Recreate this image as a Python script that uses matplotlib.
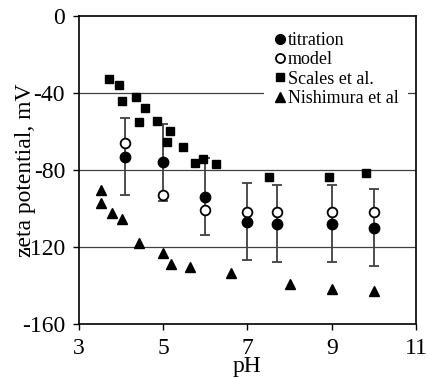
import matplotlib
matplotlib.use("Agg")
import matplotlib.pyplot as plt
from matplotlib.lines import Line2D

plt.rcParams['font.family'] = ['Liberation Serif', 'DejaVu Serif']
plt.rcParams['axes.unicode_minus'] = False

# titration (filled) with error bars, model (open)
ph_tit = [4.1, 5.0, 6.0, 7.0, 7.7, 9.0, 10.0]
zeta_tit = [-73, -76, -94, -107, -108, -108, -110]
err_tit = [20, 20, 20, 20, 20, 20, 20]
zeta_model = [-66, -93, -101, -102, -102, -102, -102]

# Scales et al.
ph_scales = [3.71, 3.96, 4.03, 4.36, 4.57, 4.42, 4.85, 5.17, 5.09, 5.47, 5.76, 5.95, 6.25, 7.52, 8.94, 9.82]
zeta_scales = [-32.7, -35.8, -44.2, -42.1, -47.6, -54.9, -54.4, -59.7, -65.6, -68.1, -76.2, -74.4, -77.0, -83.5, -83.5, -81.7]

# Nishimura et al
ph_nish = [3.52, 3.52, 3.79, 4.02, 4.43, 5.0, 5.19, 5.63, 6.61, 8.01, 9.01, 10.0]
zeta_nish = [-90.4, -97.3, -102.2, -105.3, -117.8, -123.3, -128.8, -130.5, -133.7, -139.3, -141.8, -142.9]

xticks = [3, 5, 7, 9, 11]
yticks = [0, -40, -80, -120, -160]
labels = ['titration', 'model', 'Scales et al.', 'Nishimura et al']

fig = plt.figure(figsize=(4.26, 3.79), dpi=100)
ax = fig.add_axes([0.1854, 0.1451, 0.7911, 0.8127])

for yv in [-40, -80, -120]:
    ax.axhline(yv, color='0.25', lw=0.9, zorder=1)

ax.errorbar(ph_tit, zeta_tit, yerr=err_tit, fmt='none', ecolor='0.25',
            elinewidth=1.3, capsize=3.5, capthick=1.3, zorder=2)
ax.plot(ph_scales, zeta_scales, 's', color='black', ms=5.2, zorder=3)
ax.plot(ph_nish, zeta_nish, '^', color='black', ms=6.5, zorder=3)
ax.plot(ph_tit, zeta_model, 'o', mfc='white', mec='black', mew=1.3, ms=7, zorder=4)
ax.plot(ph_tit, zeta_tit, 'o', color='black', ms=7.5, zorder=5)

ax.set_xlim(3, 11)
ax.set_ylim(-160, 0)
ax.set_xticks(xticks)
ax.set_yticks(yticks)
ax.tick_params(direction='out', length=4, width=1, labelsize=17, colors='black')
ax.tick_params(axis='x', pad=6)
ax.tick_params(axis='y', pad=6)
for s in ax.spines.values():
    s.set_linewidth(1.2)
    s.set_color('black')

ax.set_xlabel('pH', fontsize=17)
ax.xaxis.set_label_coords(0.5, -0.105)
ax.set_ylabel('zeta potential, mV', fontsize=17)
ax.yaxis.set_label_coords(-0.128, 0.5)

handles = [
    Line2D([], [], ls='none', marker='o', color='black', ms=7),
    Line2D([], [], ls='none', marker='o', mfc='white', mec='black', mew=1.3, ms=6.5),
    Line2D([], [], ls='none', marker='s', color='black', ms=5.2),
    Line2D([], [], ls='none', marker='^', color='black', ms=6.5),
]
leg = ax.legend(handles, labels, loc='upper left', bbox_to_anchor=(0.55, 0.98),
                frameon=True, fontsize=13, handlelength=0.6, handletextpad=0.15,
                labelspacing=0.13, borderpad=0.55, borderaxespad=0.0)
leg.get_frame().set_edgecolor('none')
leg.get_frame().set_facecolor('white')
leg.get_frame().set_alpha(1)
leg.set_zorder(6)

fig.savefig('out.png', dpi=100)
